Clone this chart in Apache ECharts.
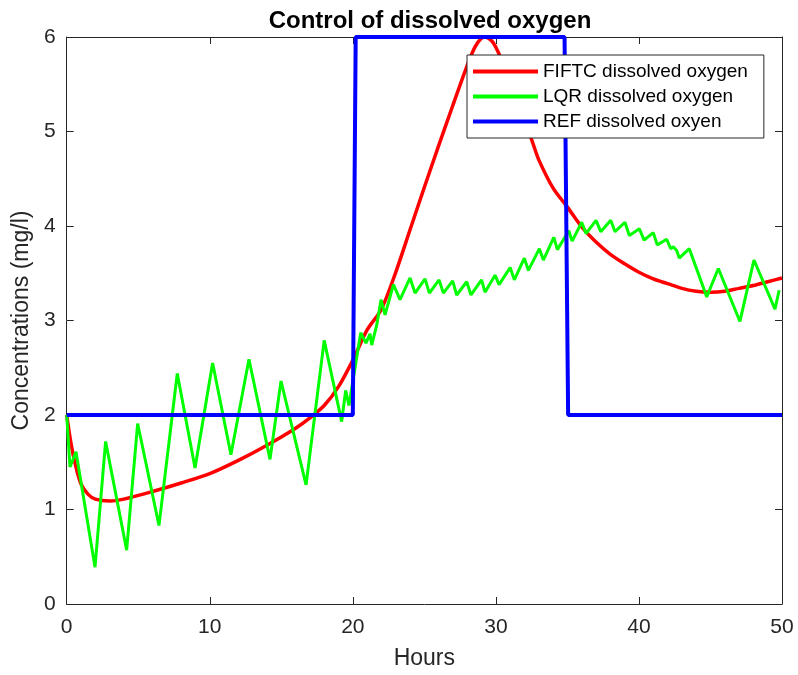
<!DOCTYPE html>
<html>
<head>
<meta charset="utf-8">
<script src="https://cdn.jsdelivr.net/npm/echarts@6/dist/echarts.min.js"></script>
<style>
  html, body { margin: 0; padding: 0; background: #ffffff; }
  #chart { width: 798px; height: 675px; }
</style>
</head>
<body>
<div id="chart"></div>
<script>
// FIFTC dissolved oxygen (red)
const fiftcHours = [0, 0.3, 0.6, 1, 1.5, 2, 3, 4, 6, 8, 10, 12, 14, 16, 17, 18, 19, 20, 21, 22, 23, 24, 25, 26, 27, 28, 28.6, 29.2, 29.7, 30.1, 31, 31.7, 32.6, 33, 34, 35, 36, 37, 38, 39, 40, 41, 42, 43, 44, 45, 46, 47, 48, 49, 50];
const fiftcValues = [2.0, 1.7, 1.48, 1.27, 1.16, 1.11, 1.09, 1.11, 1.19, 1.28, 1.38, 1.52, 1.68, 1.86, 1.97, 2.1, 2.3, 2.58, 2.9, 3.12, 3.51, 3.96, 4.41, 4.85, 5.28, 5.7, 5.91, 6.0, 5.96, 5.86, 5.55, 5.26, 4.87, 4.7, 4.4, 4.2, 3.99, 3.83, 3.7, 3.6, 3.51, 3.44, 3.39, 3.34, 3.31, 3.30, 3.31, 3.34, 3.37, 3.41, 3.45];

// LQR dissolved oxygen (green)
const lqrHours = [0, 0.23, 0.65, 1.98, 2.72, 4.19, 4.96, 6.45, 7.73, 8.97, 10.2, 11.48, 12.74, 14.21, 14.98, 16.73, 18.0, 19.22, 19.5, 19.73, 20.55, 20.92, 21.2, 21.32, 21.67, 21.97, 22.25, 22.84, 23.3, 24.0, 24.35, 25.05, 25.35, 26.03, 26.33, 26.98, 27.26, 27.96, 28.26, 29.0, 29.24, 29.94, 30.22, 31.0, 31.29, 31.99, 32.27, 33.04, 33.32, 34.05, 34.3, 35.1, 35.33, 36.0, 36.3, 37.0, 37.33, 38.03, 38.33, 39.02, 39.33, 40.03, 40.36, 41.0, 41.28, 41.94, 42.22, 42.4, 42.64, 42.82, 43.52, 44.74, 45.55, 47.06, 48.04, 49.51, 49.8];
const lqrValues = [2.0, 1.45, 1.61, 0.39, 1.72, 0.57, 1.91, 0.83, 2.44, 1.44, 2.55, 1.58, 2.59, 1.53, 2.36, 1.26, 2.79, 1.93, 2.26, 2.1, 2.87, 2.76, 2.86, 2.74, 2.95, 3.22, 3.06, 3.38, 3.22, 3.45, 3.29, 3.44, 3.29, 3.43, 3.29, 3.42, 3.27, 3.41, 3.27, 3.43, 3.30, 3.48, 3.38, 3.56, 3.43, 3.66, 3.53, 3.76, 3.64, 3.88, 3.75, 3.95, 3.84, 4.04, 3.92, 4.06, 3.94, 4.06, 3.94, 4.04, 3.90, 3.97, 3.85, 3.93, 3.80, 3.86, 3.76, 3.78, 3.74, 3.66, 3.76, 3.25, 3.55, 2.99, 3.64, 3.12, 3.32];

// REF dissolved oxyen (blue)
const refHours = [0, 20, 20.2, 34.8, 35.05, 50];
const refValues = [2, 2, 6, 6, 2, 2];

// 轴刻度
const xTicks = [0, 10, 20, 30, 40, 50];
const yTicks = [0, 1, 2, 3, 4, 5, 6];

const zip = (xs, ys) => xs.map((x, i) => [x, ys[i]]);

const axisColor = '#262626';
const font = '"Liberation Sans", Arial, sans-serif';

const chart = echarts.init(document.getElementById('chart'));

const option = {
  backgroundColor: '#ffffff',
  animation: false,
  title: {
    text: 'Control of dissolved oxygen',
    left: 425,
    textAlign: 'center',
    top: 4,
    textStyle: { color: '#000000', fontSize: 24, fontWeight: 'bold', fontFamily: font },
  },
  grid: { left: 66.7, right: 16, top: 37, bottom: 71 },
  legend: {
    data: ['FIFTC dissolved oxygen', 'LQR dissolved oxygen', 'REF dissolved oxyen'],
    orient: 'vertical',
    left: 467,
    top: 55,
    z: 20,
    padding: [7, 16, 7, 6],
    itemGap: 6,
    itemWidth: 65,
    itemHeight: 4,
    icon: 'rect',
    backgroundColor: '#ffffff',
    borderColor: axisColor,
    borderWidth: 1,
    textStyle: { color: '#000000', fontSize: 19, fontFamily: font },
  },
  xAxis: [
    {
      type: 'value',
      min: xTicks[0],
      max: xTicks[xTicks.length - 1],
      interval: 10,
      name: 'Hours',
      nameLocation: 'middle',
      nameGap: 43,
      nameTextStyle: { color: axisColor, fontSize: 23, fontFamily: font },
      axisLine: { onZero: false, lineStyle: { color: axisColor, width: 1 } },
      axisTick: { inside: true, length: 7, lineStyle: { color: axisColor } },
      axisLabel: { color: axisColor, fontSize: 21, margin: 13, fontFamily: font },
      splitLine: { show: false },
    },
    {
      type: 'value',
      position: 'top',
      min: xTicks[0],
      max: xTicks[xTicks.length - 1],
      interval: 10,
      axisLine: { onZero: false, lineStyle: { color: axisColor, width: 1 } },
      axisTick: { inside: true, length: 7, lineStyle: { color: axisColor } },
      axisLabel: { show: false },
      splitLine: { show: false },
    },
  ],
  yAxis: [
    {
      type: 'value',
      min: yTicks[0],
      max: yTicks[yTicks.length - 1],
      interval: 1,
      name: 'Concentrations (mg/l)',
      nameLocation: 'middle',
      nameGap: 28,
      nameTextStyle: { color: axisColor, fontSize: 23, fontFamily: font },
      axisLine: { show: true, onZero: false, lineStyle: { color: axisColor, width: 1 } },
      axisTick: { show: true, inside: true, length: 7, lineStyle: { color: axisColor } },
      axisLabel: { color: axisColor, fontSize: 21, margin: 11, fontFamily: font },
      splitLine: { show: false },
    },
    {
      type: 'value',
      position: 'right',
      min: yTicks[0],
      max: yTicks[yTicks.length - 1],
      interval: 1,
      axisLine: { show: true, onZero: false, lineStyle: { color: axisColor, width: 1 } },
      axisTick: { show: true, inside: true, length: 7, lineStyle: { color: axisColor } },
      axisLabel: { show: false },
      splitLine: { show: false },
    },
  ],
  series: [
    {
      name: 'FIFTC dissolved oxygen',
      type: 'line',
      data: zip(fiftcHours, fiftcValues),
      smooth: 0.3,
      symbol: 'none',
      lineStyle: { color: '#ff0000', width: 3.5 },
      itemStyle: { color: '#ff0000' },
      z: 2,
    },
    {
      name: 'LQR dissolved oxygen',
      type: 'line',
      data: zip(lqrHours, lqrValues),
      symbol: 'none',
      lineStyle: { color: '#00ff00', width: 3 },
      itemStyle: { color: '#00ff00' },
      z: 3,
    },
    {
      name: 'REF dissolved oxyen',
      type: 'line',
      data: zip(refHours, refValues),
      symbol: 'none',
      lineStyle: { color: '#0000ff', width: 4 },
      itemStyle: { color: '#0000ff' },
      z: 4,
    },
  ],
};

chart.setOption(option);
</script>
</body>
</html>
